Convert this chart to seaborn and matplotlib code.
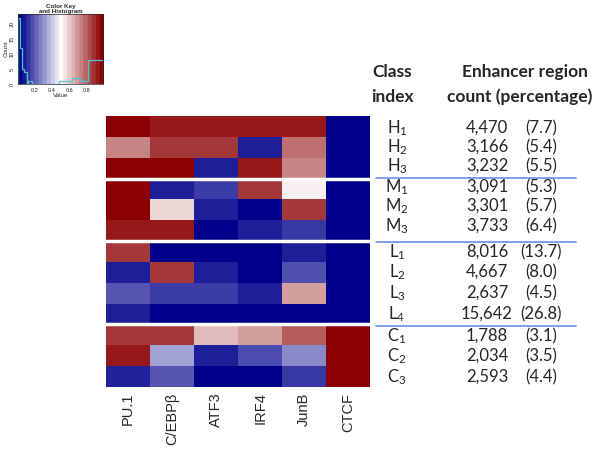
import numpy as np
import pandas as pd
import matplotlib
matplotlib.use("Agg")
import matplotlib.pyplot as plt
import seaborn as sns
from matplotlib.colors import LinearSegmentedColormap

# heatmap values (0 = blue, 0.5 = white, 1 = red)
factors = ["PU.1", "C/EBPβ", "ATF3", "IRF4", "JunB", "CTCF"]
classes = ["H1", "H2", "H3", "M1", "M2", "M3", "L1", "L2", "L3", "L4", "C1", "C2", "C3"]
values = [
    [1.00, 0.95, 0.95, 0.95, 0.95, 0.00],
    [0.74, 0.89, 0.89, 0.06, 0.78, 0.00],
    [1.00, 1.00, 0.06, 0.95, 0.74, 0.00],
    [1.00, 0.06, 0.12, 0.89, 0.53, 0.00],
    [1.00, 0.58, 0.06, 0.00, 0.89, 0.00],
    [0.95, 0.95, 0.00, 0.06, 0.11, 0.00],
    [0.89, 0.00, 0.00, 0.00, 0.06, 0.00],
    [0.06, 0.89, 0.06, 0.00, 0.16, 0.00],
    [0.17, 0.12, 0.12, 0.06, 0.69, 0.00],
    [0.06, 0.00, 0.00, 0.00, 0.00, 0.00],
    [0.89, 0.89, 0.63, 0.69, 0.82, 1.00],
    [0.95, 0.32, 0.06, 0.15, 0.27, 1.00],
    [0.07, 0.17, 0.00, 0.00, 0.11, 1.00],
]
group_breaks = [3, 6, 10]

# table
class_letters = ["H", "H", "H", "M", "M", "M", "L", "L", "L", "L", "C", "C", "C"]
class_nums = [1, 2, 3, 1, 2, 3, 1, 2, 3, 4, 1, 2, 3]
counts = ["4,470", "3,166", "3,232", "3,091", "3,301", "3,733", "8,016",
          "4,667", "2,637", "15,642", "1,788", "2,034", "2,593"]
percents = ["(7.7)", "(5.4)", "(5.5)", "(5.3)", "(5.7)", "(6.4)", "(13.7)",
            "(8.0)", "(4.5)", "(26.8)", "(3.1)", "(3.5)", "(4.4)"]

# color key histogram
hist_edges = [0, 0.025, 0.05, 0.075, 0.1, 0.12, 0.17, 0.48, 0.63, 0.73, 0.82, 1.0]
hist_counts = [22, 12, 5, 4, 0, 1, 0, 1, 2, 1, 8]

sns.set_style("white")
plt.rcParams["font.family"] = ["Liberation Sans", "DejaVu Sans"]
plt.rcParams["mathtext.default"] = "regular"

cmap = LinearSegmentedColormap.from_list("bwr2", ["#00008B", "#FFFFFF", "#8B0000"])

fig = plt.figure(figsize=(6, 4.5), dpi=100)

# main heatmap
ax = fig.add_axes([0.177, 0.14, 0.44, 0.602])
df = pd.DataFrame(values, index=classes, columns=factors)
sns.heatmap(df, cmap=cmap, vmin=0, vmax=1, cbar=False, ax=ax,
            xticklabels=True, yticklabels=False)
for b in group_breaks:
    ax.axhline(b, color="white", lw=2.5)
ax.tick_params(axis="x", length=0, pad=4)
plt.setp(ax.get_xticklabels(), rotation=90, fontsize=10.5)

# color key
kax = fig.add_axes([0.03, 0.813, 0.142, 0.156])
key_cmap = LinearSegmentedColormap.from_list("key", ["#00008B", "#FFFFFF", "#8B0000"], N=21)
kax.imshow(np.linspace(0, 1, 200)[None, :], cmap=key_cmap, aspect="auto",
           extent=[0, 1, 0, 23.5], origin="lower")
kax.stairs(hist_counts, hist_edges, color="#4cc6d2", lw=0.9)
kax.set_xlim(0, 1)
kax.set_ylim(0, 23.5)
kax.set_xticks([0.2, 0.4, 0.6, 0.8])
kax.set_yticks([0, 5, 10, 15, 20])
kax.tick_params(labelsize=4, length=1.5, pad=1)
plt.setp(kax.get_yticklabels(), rotation=90, va="center")
kax.set_xlabel("Value", fontsize=4.5, labelpad=0)
kax.set_ylabel("Count", fontsize=4.5, labelpad=1)
kax.set_title("Color Key\nand Histogram", fontsize=4.5, fontweight="bold", pad=1, linespacing=0.9)
for s in kax.spines.values():
    s.set_visible(True)
    s.set_linewidth(0.5)

# table
tfont = ["Lato", "DejaVu Sans"]
W, H = 600.0, 450.0


def fx(px):
    return px / W


def fy(py):
    return 1 - py / H


fig.text(fx(392), fy(72), "Class", ha="center", va="center", fontsize=12.5,
         fontweight="bold", family=tfont)
fig.text(fx(392), fy(97), "index", ha="center", va="center", fontsize=12.5,
         fontweight="bold", family=tfont)
fig.text(fx(525), fy(72), "Enhancer region", ha="center", va="center", fontsize=12.5,
         fontweight="bold", family=tfont)
fig.text(fx(520), fy(97), "count (percentage)", ha="center", va="center", fontsize=12.5,
         fontweight="bold", family=tfont)

row_y = [128, 147, 166, 187, 206, 226, 252, 272, 293, 314, 336, 356, 377]
for i in range(len(classes)):
    y = fy(row_y[i])
    fig.text(fx(397), y, f"{class_letters[i]}$_{class_nums[i]}$", ha="center", va="center",
             fontsize=12, family=tfont)
    fig.text(fx(487), y, counts[i], ha="center", va="center", fontsize=12, family=tfont)
    fig.text(fx(541), y, percents[i], ha="center", va="center", fontsize=12, family=tfont)

for ly in [178, 242, 326]:
    fig.add_artist(plt.Line2D([fx(376), fx(576)], [fy(ly), fy(ly)], color="#6d8ce0", lw=1.2))

fig.savefig("out.png", dpi=100)
